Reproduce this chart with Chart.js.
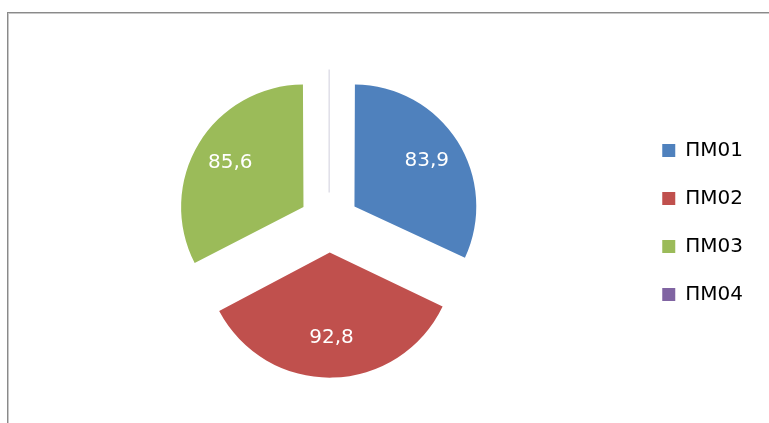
<!DOCTYPE html>
<html>
<head>
<meta charset="utf-8">
<script src="https://cdn.jsdelivr.net/npm/chart.js@4.4.1/dist/chart.umd.min.js"></script>
<style>
  html, body { margin: 0; padding: 0; background: #fff; overflow: hidden; }
  #wrap { position: relative; width: 769px; height: 423px; }
  #pieChart { position: absolute; left: 0; top: 0; }
  #frame {
    position: absolute; left: 7px; top: 12px; width: 800px; height: 450px;
    border-left: 1px solid #8a8a8a; border-top: 1px solid #8a8a8a;
    box-shadow: inset 1px 1px 0 #c8c8c8; pointer-events: none;
  }
</style>
</head>
<body>
<div id="wrap">
  <canvas id="pieChart" width="753" height="423"></canvas>
  <div id="frame"></div>
</div>
<script>
const categories = ['ПМ01', 'ПМ02', 'ПМ03', 'ПМ04'];
const values = [83.9, 92.8, 85.6, 0];
const colors = ['#4F81BD', '#C0504D', '#9BBB59', '#8064A2'];

// white value labels inside slices, and a thin line for empty slices
const sliceLabels = {
  id: 'sliceLabels',
  afterDatasetsDraw(chart) {
    const ctx = chart.ctx;
    const meta = chart.getDatasetMeta(0);
    meta.data.forEach((arc, i) => {
      const shift = (arc.options.offset || 0) / 4;
      const mid = (arc.startAngle + arc.endAngle) / 2;
      ctx.save();
      if (values[i] === 0) {
        const x0 = arc.x + Math.cos(mid) * shift;
        const y0 = arc.y + Math.sin(mid) * shift;
        ctx.strokeStyle = '#cfcedc';
        ctx.lineWidth = 1;
        ctx.beginPath();
        ctx.moveTo(x0, y0);
        ctx.lineTo(x0 + Math.cos(mid) * (arc.outerRadius + 4), y0 + Math.sin(mid) * (arc.outerRadius + 4));
        ctx.stroke();
      } else {
        const dist = arc.outerRadius * 0.72 + shift;
        ctx.fillStyle = '#fff';
        ctx.font = '20px "DejaVu Sans"';
        ctx.textAlign = 'center';
        ctx.textBaseline = 'middle';
        ctx.fillText(String(values[i]).replace('.', ','),
          arc.x + Math.cos(mid) * dist, arc.y + Math.sin(mid) * dist);
      }
      ctx.restore();
    });
  }
};

new Chart(document.getElementById('pieChart'), {
  type: 'pie',
  data: {
    labels: categories,
    datasets: [{
      data: values,
      backgroundColor: colors,
      borderWidth: 0,
      offset: 120
    }]
  },
  options: {
    responsive: false,
    animation: false,
    events: [],
    radius: 119,
    layout: { padding: { left: 24, top: 22, right: 0, bottom: 0 } },
    plugins: {
      tooltip: { enabled: false },
      legend: {
        position: 'right',
        labels: {
          boxWidth: 13,
          boxHeight: 13,
          padding: 28,
          color: '#000',
          font: { family: 'DejaVu Sans', size: 20 }
        }
      }
    }
  },
  plugins: [sliceLabels]
});
</script>
</body>
</html>
